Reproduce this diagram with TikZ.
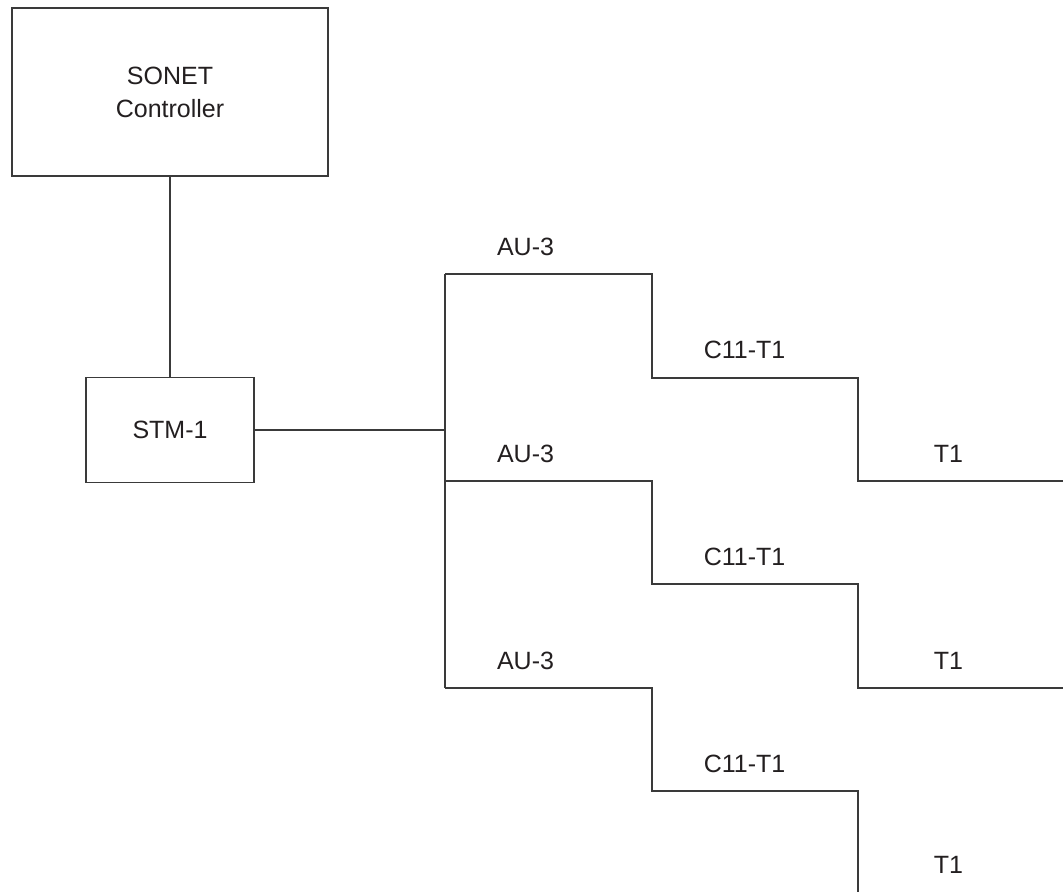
\documentclass[tikz,border=0pt]{standalone}
\usepackage{fontspec}
\setmainfont{Liberation Sans}
\definecolor{linegray}{HTML}{3A3A3A}
\definecolor{textblack}{HTML}{231F20}
\begin{document}
\begin{tikzpicture}[x=1pt,y=-1pt,
  wire/.style={draw=linegray, line width=1.2pt},
  box/.style={draw=linegray, line width=1.2pt, fill=white, text=textblack,
    font=\fontsize{25}{33}\selectfont, align=center, inner sep=0pt},
  lbl/.style={text=textblack, font=\fontsize{25}{30}\selectfont, anchor=base, inner sep=0pt}]
\useasboundingbox[fill=white] (0,0) rectangle (1063,892);
% boxes
\node[box, minimum width=316pt, minimum height=168pt] (sonet) at (170,92) {SONET\\Controller};
\node[box, minimum width=168pt, minimum height=105pt] (stm) at (170,430) {STM-1};
% corner coordinates
\coordinate (bus) at (445,430);
\coordinate (a1) at (445,274); \coordinate (a1e) at (652,274);
\coordinate (c1) at (652,378); \coordinate (c1e) at (858,378);
\coordinate (t1) at (858,481); \coordinate (t1e) at (1063,481);
\coordinate (a2) at (445,481); \coordinate (a2e) at (652,481);
\coordinate (c2) at (652,584); \coordinate (c2e) at (858,584);
\coordinate (t2) at (858,688); \coordinate (t2e) at (1063,688);
\coordinate (a3) at (445,688); \coordinate (a3e) at (652,688);
\coordinate (c3) at (652,791); \coordinate (c3e) at (858,791);
\coordinate (t3) at (858,892);
% connectors
\draw[wire] (sonet.south) -- (stm.north);
\draw[wire] (stm.east) -- (bus);
\draw[wire] (a1) -- (a3);
\draw[wire] (a1) -- (a1e) -- (c1) -- (c1e) -- (t1) -- (t1e);
\draw[wire] (a2) -- (a2e) -- (c2) -- (c2e) -- (t2) -- (t2e);
\draw[wire] (a3) -- (a3e) -- (c3) -- (c3e) -- (t3);
% labels
\node[lbl] (au1) at (525.5,255) {AU-3};
\node[lbl] (au2) at (525.5,462) {AU-3};
\node[lbl] (au3) at (525.5,669) {AU-3};
\node[lbl] (cc1) at (744.5,358.5) {C11-T1};
\node[lbl] (cc2) at (744.5,565) {C11-T1};
\node[lbl] (cc3) at (744.5,772) {C11-T1};
\node[lbl] (tt1) at (948.5,462) {T1};
\node[lbl] (tt2) at (948.5,669) {T1};
\node[lbl] (tt3) at (948.5,873) {T1};
\end{tikzpicture}
\end{document}
